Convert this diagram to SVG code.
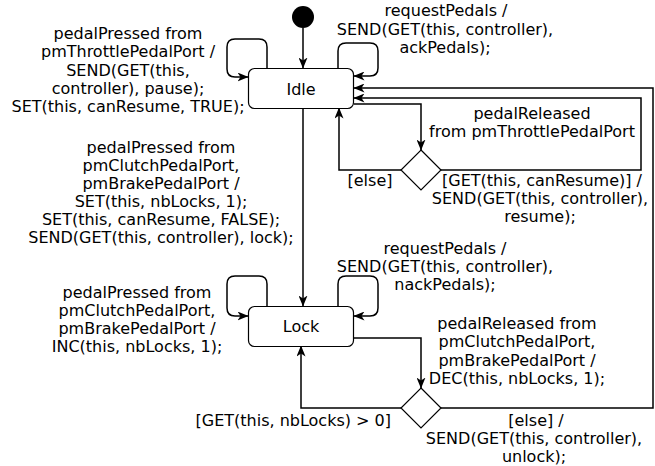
<svg xmlns="http://www.w3.org/2000/svg" width="655" height="466" viewBox="0 0 655 466">
<style>
.st{fill:#fff;stroke:#000;stroke-width:1.2}
.lbl{font-family:"DejaVu Sans",sans-serif;font-size:16px;fill:#000;text-anchor:middle}
.e{stroke:#000;stroke-width:1.5;fill:none;marker-end:url(#arr)}
</style>
<defs>
<marker id="arr" markerUnits="userSpaceOnUse" viewBox="0 0 11 9" refX="10.5" refY="4.5" markerWidth="11" markerHeight="9" orient="auto">
<path d="M0,0 L11,4.5 L0,9 L3,4.5 z" fill="#000"/>
</marker>
</defs>
<rect width="655" height="466" fill="#fff"/>
<g id="connectors">
<path class="e" d="M303,28 V68"/>
<path class="e" d="M267,68 V47 Q267,39 259,39 H235 Q227,39 227,47 V69 Q227,77 235,77 H248"/>
<path class="e" d="M338,68 V51 Q338,43 346,43 H370 Q378,43 378,51 V68 Q378,76 370,76 H354"/>
<path class="e" d="M303,108 V306"/>
<path class="e" d="M354,104 H421 V150"/>
<path class="e" d="M401,170 H339 V108"/>
<path class="e" d="M441,170 H641 V98 H354"/>
<path class="e" d="M267,306 V284 Q267,276 259,276 H235 Q227,276 227,284 V308 Q227,316 235,316 H248"/>
<path class="e" d="M338,306 V284 Q338,276 346,276 H370 Q378,276 378,284 V308 Q378,316 370,316 H354"/>
<path class="e" d="M354,338 H421 V388"/>
<path class="e" d="M401,408 H301 V346"/>
<path class="e" d="M441,408 H653 V88 H354"/>
</g>
<g id="init"><circle cx="303" cy="17" r="11" fill="#000"/></g>
<g id="idle">
<rect class="st" x="248.5" y="68.5" width="105" height="40" rx="6"/>
<text class="lbl" x="301" y="95">Idle</text>
</g>
<g id="lock">
<rect class="st" x="248.5" y="306.5" width="105" height="40" rx="6"/>
<text class="lbl" x="301" y="332">Lock</text>
</g>
<g id="choice1"><polygon class="st" points="421,150 441,170 421,190 401,170"/></g>
<g id="choice2"><polygon class="st" points="421,388 441,408 421,428 401,408"/></g>
<g id="labels">
<text class="lbl" x="128"><tspan x="128" y="38.5">pedalPressed from</tspan><tspan x="128" y="57">pmThrottlePedalPort /</tspan><tspan x="128" y="75.5">SEND(GET(this,</tspan><tspan x="128" y="94">controller), pause);</tspan><tspan x="128" y="112.3">SET(this, canResume, TRUE);</tspan></text>
<text class="lbl"><tspan x="446" y="16">requestPedals /</tspan><tspan x="445" y="35">SEND(GET(this, controller),</tspan><tspan x="445" y="53">ackPedals);</tspan></text>
<text class="lbl"><tspan x="161" y="153">pedalPressed from</tspan><tspan x="161" y="171">pmClutchPedalPort,</tspan><tspan x="161" y="189">pmBrakePedalPort /</tspan><tspan x="161" y="207">SET(this, nbLocks, 1);</tspan><tspan x="161" y="225">SET(this, canResume, FALSE);</tspan><tspan x="161" y="243">SEND(GET(this, controller), lock);</tspan></text>
<text class="lbl"><tspan x="532" y="119">pedalReleased</tspan><tspan x="532" y="137">from pmThrottlePedalPort</tspan></text>
<text class="lbl" x="370" y="186">[else]</text>
<text class="lbl"><tspan x="542" y="186">[GET(this, canResume)] /</tspan><tspan x="540" y="204">SEND(GET(this, controller),</tspan><tspan x="540" y="222">resume);</tspan></text>
<text class="lbl"><tspan x="137" y="298">pedalPressed from</tspan><tspan x="137" y="316">pmClutchPedalPort,</tspan><tspan x="137" y="334">pmBrakePedalPort /</tspan><tspan x="137" y="352">INC(this, nbLocks, 1);</tspan></text>
<text class="lbl"><tspan x="445" y="254">requestPedals /</tspan><tspan x="445" y="272">SEND(GET(this, controller),</tspan><tspan x="445" y="290">nackPedals);</tspan></text>
<text class="lbl"><tspan x="517" y="329">pedalReleased from</tspan><tspan x="517" y="347">pmClutchPedalPort,</tspan><tspan x="517" y="365.5">pmBrakePedalPort /</tspan><tspan x="517" y="384">DEC(this, nbLocks, 1);</tspan></text>
<text class="lbl" x="391" y="426" style="text-anchor:end">[GET(this, nbLocks) &gt; 0]</text>
<text class="lbl"><tspan x="536" y="426">[else] /</tspan><tspan x="534" y="444">SEND(GET(this, controller),</tspan><tspan x="534" y="462">unlock);</tspan></text>
</g>
</svg>
